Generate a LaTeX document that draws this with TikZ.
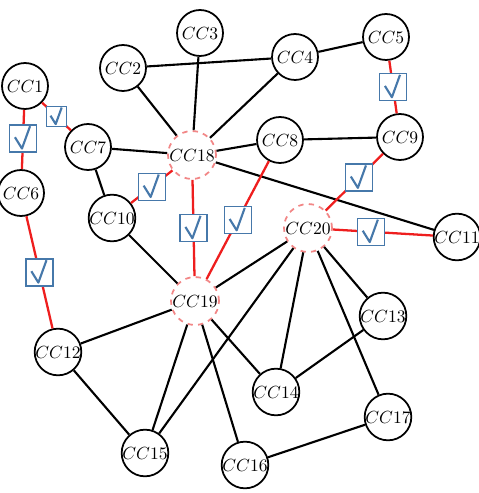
\documentclass[tikz,border=0pt]{standalone}
\usepackage{amsmath,amssymb}
\usepackage{tikz}
\usetikzlibrary{positioning}
\definecolor{linkred} {RGB}{238,30,30}
\definecolor{tickblue}{RGB}{70,120,170}
\definecolor{hubpink} {RGB}{242,135,135}

\begin{document}
\begin{tikzpicture}[
  x=0.02cm, y=-0.02cm,
  cc/.style={circle, draw=black, line width=1pt, fill=white,
    minimum size=0.92cm, inner sep=0pt},
  hub/.style={cc, draw=hubpink, dashed, minimum size=0.96cm},
  link/.style={line width=1.2pt, black},
  redlink/.style={line width=1.3pt, linkred},
  chk/.style={draw=tickblue, line width=0.8pt, fill=white,
    minimum size=#1, inner sep=0pt,
    path picture={\draw[tickblue, line width=1.2pt, line join=round]
      ([shift={(-0.3*#1,0.04*#1)}]path picture bounding box.center)
      -- ([shift={(-0.04*#1,-0.38*#1)}]path picture bounding box.center)
      -- ([shift={(0.26*#1,0.45*#1)}]path picture bounding box.center);}},
  chk/.default=0.54cm,
]
\useasboundingbox (0,0) rectangle (479,493);

% Components
\node[cc] (cc1)  at (25,86)   {$CC1$};
\node[cc] (cc2)  at (123,68)  {$CC2$};
\node[cc] (cc3)  at (200,33)  {$CC3$};
\node[cc] (cc4)  at (295,57)  {$CC4$};
\node[cc] (cc5)  at (386,37)  {$CC5$};
\node[cc] (cc6)  at (21,193)  {$CC6$};
\node[cc] (cc7)  at (88,147)  {$CC7$};
\node[cc] (cc8)  at (280,140) {$CC8$};
\node[cc] (cc9)  at (400,137) {$CC9$};
\node[cc] (cc10) at (112,218) {$CC10$};
\node[cc] (cc11) at (457,237) {$CC11$};
\node[cc] (cc12) at (58,352)  {$CC12$};
\node[cc] (cc13) at (383,316) {$CC13$};
\node[cc] (cc14) at (276,392) {$CC14$};
\node[cc] (cc15) at (145,453) {$CC15$};
\node[cc] (cc16) at (245,465) {$CC16$};
\node[cc] (cc17) at (388,417) {$CC17$};

% Hubs
\node[hub] (cc18) at (192,155) {$CC18$};
\node[hub] (cc19) at (195,301) {$CC19$};
\node[hub] (cc20) at (308,228) {$CC20$};

% Black links
\foreach \a/\b in {cc2/cc4, cc4/cc5, cc2/cc18, cc3/cc18, cc4/cc18,
    cc7/cc18, cc7/cc10, cc18/cc8, cc8/cc9, cc18/cc11, cc10/cc19,
    cc19/cc20, cc19/cc12, cc19/cc15, cc19/cc16, cc19/cc14, cc20/cc15,
    cc20/cc14, cc20/cc13, cc20/cc17, cc13/cc14, cc12/cc15, cc16/cc17}
  \draw[link] (\a) -- (\b);

% Red links, checked
\foreach \a/\b/\k/\p in {cc1/cc6/k1/0.48, cc6/cc12/k2/0.5,
    cc10/cc18/k3/0.5, cc18/cc19/k4/0.5, cc8/cc19/k5/0.5,
    cc5/cc9/k6/0.5, cc9/cc20/k7/0.42, cc20/cc11/k8/0.38}
  \draw[redlink] (\a) -- node[chk, pos=\p] (\k) {} (\b);
\draw[redlink] (cc1) -- node[chk=0.4cm] (k9) {} (cc7);

\end{tikzpicture}
\end{document}
